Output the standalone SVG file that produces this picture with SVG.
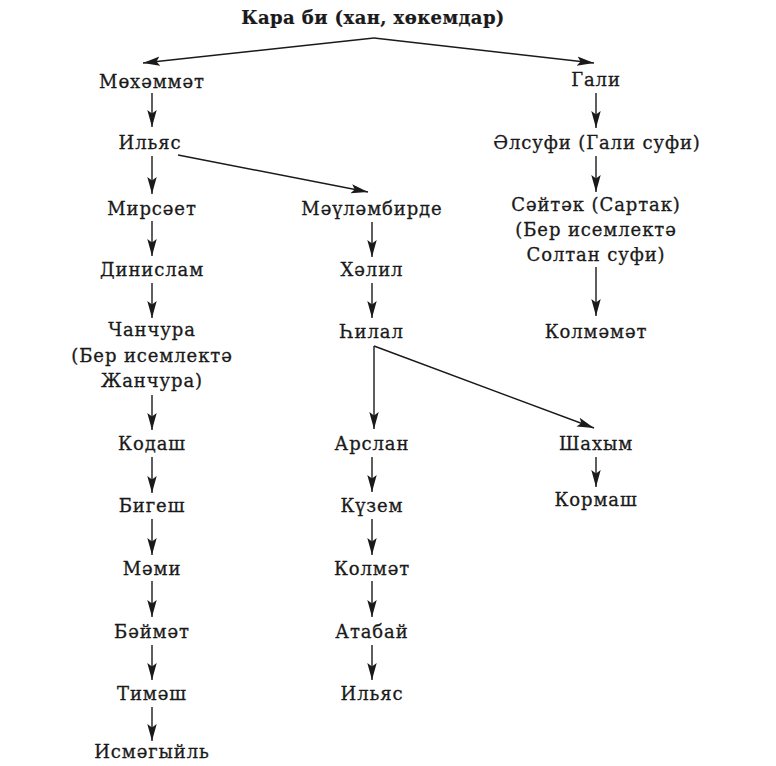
<svg xmlns="http://www.w3.org/2000/svg" width="776" height="766" viewBox="0 0 776 766">
<defs>
<marker id="ah" markerUnits="userSpaceOnUse" markerWidth="19" markerHeight="12" refX="17" refY="5" orient="auto" viewBox="0 0 19 10">
<path d="M0,0.3 L17,5 L0,9.7 L3.5,5 Z" fill="#1a1a1a"/>
</marker>
<style>
text{font-family:"DejaVu Serif","Liberation Serif",serif;font-size:18px;fill:#1a1a1a;stroke:#1a1a1a;stroke-width:0.3;text-anchor:middle;letter-spacing:0.9px}
.t{font-weight:bold;letter-spacing:0.4px;stroke-width:0.2}
.c line{stroke:#1a1a1a;stroke-width:1.4;marker-end:url(#ah)}
</style>
</defs>
<rect width="776" height="766" fill="#ffffff"/>
<g id="root"><text class="t" x="373" y="24">Кара би (хан, хөкемдар)</text></g>
<g id="n-mohammat"><text x="152" y="88">Мөхәммәт</text></g>
<g id="n-gali"><text x="596" y="86">Гали</text></g>
<g id="n-ilyas1"><text x="150" y="149">Ильяс</text></g>
<g id="n-alsufi"><text x="597" y="149">Әлсуфи (Гали суфи)</text></g>
<g id="n-mirsaet"><text x="152" y="215">Мирсәет</text></g>
<g id="n-maulambirde"><text x="372" y="215">Мәүләмбирде</text></g>
<g id="n-saitak"><text x="596" y="211">Сәйтәк (Сартак)</text><text x="596" y="236">(Бер исемлектә</text><text x="596" y="261">Солтан суфи)</text></g>
<g id="n-dinislam"><text x="152" y="276">Динислам</text></g>
<g id="n-khalil"><text x="372" y="276">Хәлил</text></g>
<g id="n-hilal"><text x="372" y="338">Һилал</text></g>
<g id="n-kolmamat"><text x="596" y="338">Колмәмәт</text></g>
<g id="n-chanchura"><text x="152" y="336">Чанчура</text><text x="152" y="362">(Бер исемлектә</text><text x="152" y="387">Жанчура)</text></g>
<g id="n-kodash"><text x="152" y="450">Кодаш</text></g>
<g id="n-arslan"><text x="372" y="450">Арслан</text></g>
<g id="n-shakhym"><text x="596" y="450">Шахым</text></g>
<g id="n-bigesh"><text x="152" y="512">Бигеш</text></g>
<g id="n-kuzem"><text x="372" y="512">Күзем</text></g>
<g id="n-kormash"><text x="596" y="506">Кормаш</text></g>
<g id="n-mami"><text x="152" y="575">Мәми</text></g>
<g id="n-kolmat"><text x="372" y="575">Колмәт</text></g>
<g id="n-baimat"><text x="152" y="638">Бәймәт</text></g>
<g id="n-atabai"><text x="372" y="638">Атабай</text></g>
<g id="n-timash"><text x="152" y="700">Тимәш</text></g>
<g id="n-ilyas2"><text x="372" y="700">Ильяс</text></g>
<g id="n-ismagyil"><text x="152" y="758">Исмәгыйль</text></g>
<g id="connectors" class="c">
<line x1="374" y1="38" x2="143" y2="63"/>
<line x1="374" y1="38" x2="594" y2="63"/>
<line x1="152" y1="93" x2="152" y2="127"/>
<line x1="596" y1="93" x2="596" y2="128"/>
<line x1="596" y1="156" x2="596" y2="192"/>
<line x1="596" y1="267" x2="596" y2="316"/>
<line x1="152" y1="156" x2="152" y2="194"/>
<line x1="152" y1="221" x2="152" y2="256"/>
<line x1="152" y1="283" x2="152" y2="318"/>
<line x1="152" y1="395" x2="152" y2="430"/>
<line x1="152" y1="457" x2="152" y2="493"/>
<line x1="152" y1="519" x2="152" y2="555"/>
<line x1="152" y1="581" x2="152" y2="617"/>
<line x1="152" y1="645" x2="152" y2="680"/>
<line x1="152" y1="707" x2="152" y2="741"/>
<line x1="178" y1="155" x2="368" y2="192"/>
<line x1="372" y1="222" x2="372" y2="257"/>
<line x1="372" y1="283" x2="372" y2="318"/>
<line x1="374" y1="346" x2="374" y2="429"/>
<line x1="374" y1="346" x2="594" y2="428"/>
<line x1="372" y1="457" x2="372" y2="492"/>
<line x1="372" y1="519" x2="372" y2="555"/>
<line x1="372" y1="581" x2="372" y2="617"/>
<line x1="372" y1="645" x2="372" y2="680"/>
<line x1="596" y1="457" x2="596" y2="487"/>
</g>
</svg>
